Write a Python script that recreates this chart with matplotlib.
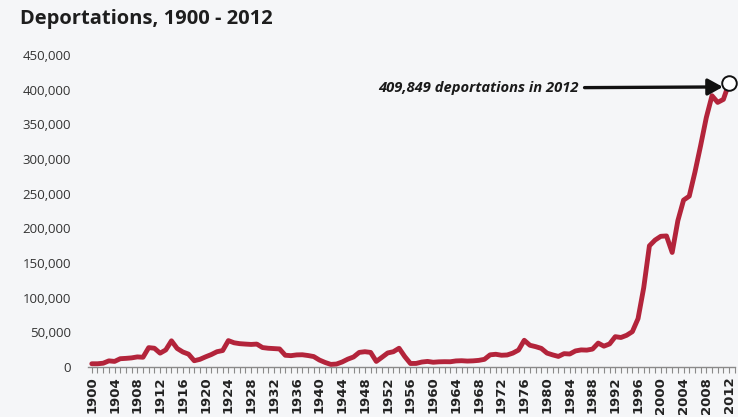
import matplotlib
matplotlib.use("Agg")
import matplotlib.pyplot as plt
from matplotlib.ticker import FuncFormatter, MultipleLocator

years = list(range(1900, 2013))
deportations = [
    4600, 4600, 5400, 8800, 8000, 11900, 12400, 13100, 14500, 14000,   # 1900-1909
    27900, 27000, 19900, 24600, 37700, 26700, 21600, 18500, 9000, 11000,  # 1910-1919
    14600, 17900, 22000, 23700, 38000, 34900, 33600, 33000, 32500, 33000,  # 1920-1929
    28000, 27000, 26500, 26000, 16900, 16300, 17400, 17600, 16500, 15000,  # 1930-1939
    10000, 6500, 3700, 4200, 7200, 11300, 14400, 21000, 22000, 21000,     # 1940-1949
    8000, 14000, 20200, 22000, 27000, 15000, 5000, 5100, 7100, 8000,      # 1950-1959
    6800, 7400, 7600, 7500, 8700, 9000, 8500, 8800, 9500, 11000,          # 1960-1969
    17500, 18300, 16900, 17300, 20000, 24400, 38500, 31300, 29300, 26800, # 1970-1979
    20000, 17400, 15200, 19200, 18700, 23100, 24600, 24300, 25800, 34400, # 1980-1989
    30000, 33200, 43700, 42500, 45700, 50900, 69700, 114400, 174800, 183100,  # 1990-1999
    188500, 189000, 165200, 211100, 240700, 246400, 281000, 319400, 359800, 391300,  # 2000-2009
    381700, 386000, 409849,                                               # 2010-2012
]
y_ticks = [0, 50000, 100000, 150000, 200000, 250000, 300000, 350000, 400000, 450000]
x_tick_years = list(range(1900, 2013, 4))
title = "Deportations, 1900 - 2012"
note = "409,849 deportations in 2012"

bg = "#f5f6f8"
fig = plt.figure(figsize=(7.38, 4.17), dpi=100, facecolor=bg)
ax = fig.add_axes([0.119, 0.12, 0.877, 0.748], facecolor=bg)

ax.plot(years, deportations, color="#b3243b", lw=3.5, solid_joinstyle="round",
        solid_capstyle="round", zorder=3)
ax.plot([years[-1]], [deportations[-1]], marker="o", ms=10.5, mfc="white",
        mec="#111111", mew=1.4, zorder=4, clip_on=False)

ax.set_xlim(1899.3, 2013.05)
ax.set_ylim(0, 450000)
ax.set_yticks(y_ticks)
ax.yaxis.set_major_formatter(FuncFormatter(lambda v, p: f"{int(v):,}"))
ax.set_xticks(x_tick_years)
ax.xaxis.set_minor_locator(MultipleLocator(1))

for s in ["top", "right", "left"]:
    ax.spines[s].set_visible(False)
ax.spines["bottom"].set_color("#8a8a8a")
ax.spines["bottom"].set_linewidth(1.0)

ax.tick_params(axis="y", length=0, pad=12, labelsize=9.5, labelcolor="#333333")
for lab in ax.get_yticklabels():
    lab.set_family("Open Sans")
ax.tick_params(axis="x", which="both", direction="out", color="#8a8a8a",
               length=4, width=0.8, labelsize=9.5, pad=3)
for lab in ax.get_xticklabels():
    lab.set_rotation(90)
    lab.set_fontweight("bold")
    lab.set_color("#222222")
    lab.set_family("DejaVu Sans")

fig.text(0.027, 0.955, title, fontsize=14.5, fontweight="bold", color="#1e1e1e",
         va="center", ha="left", family="Open Sans")

note_y = 403000
ax.text(1985.6, note_y, note, fontsize=10.6, fontweight="bold", fontstyle="italic",
        color="#1a1a1a", va="center", ha="right", family="Open Sans")
ax.annotate("", xy=(2010.9, note_y + 1000), xytext=(1986.6, note_y),
            arrowprops=dict(arrowstyle="-|>,head_length=0.9,head_width=0.5",
                            lw=2.4, color="#111111", shrinkA=0, shrinkB=0))

fig.savefig("out.png", dpi=100, facecolor=bg)
